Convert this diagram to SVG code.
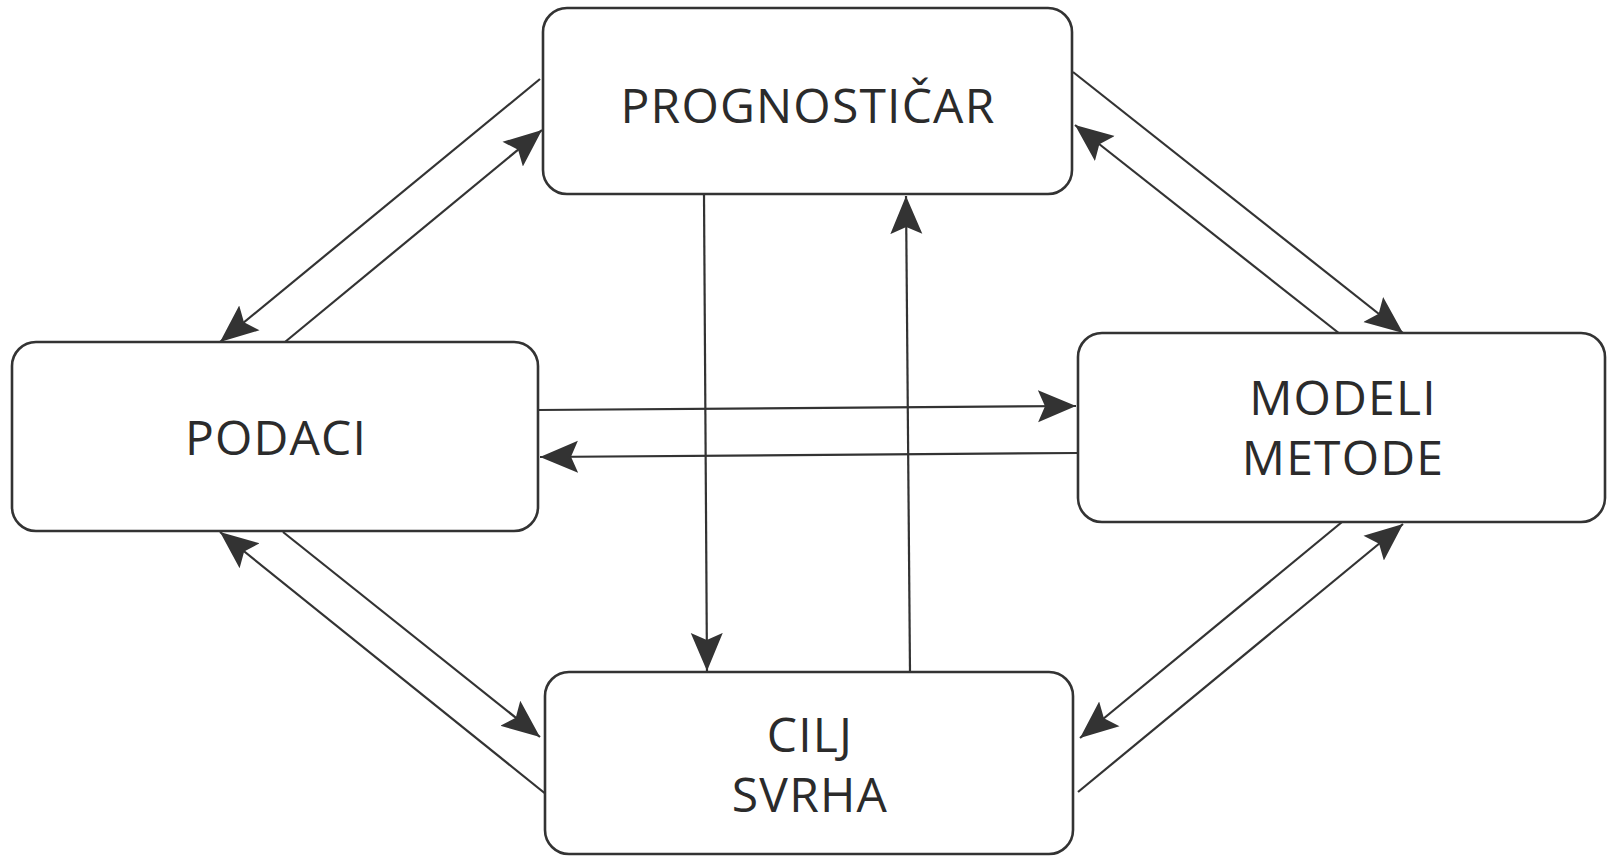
<svg xmlns="http://www.w3.org/2000/svg" width="1608" height="857" viewBox="0 0 1608 857">
  <style>
    .box { fill: #ffffff; stroke: #333333; stroke-width: 2.6; }
    .label { font-family: "Open Sans", "Liberation Sans", sans-serif; font-size: 48px; letter-spacing: 1.2px; fill: #2b2b2b; text-anchor: middle; }
    .conn { stroke: #333333; stroke-width: 2.2; fill: none; marker-end: url(#head); }
  </style>
  <defs>
    <marker id="head" markerUnits="userSpaceOnUse" viewBox="-38 -17 40 34" markerWidth="40" markerHeight="34" refX="0" refY="0" orient="auto">
      <path d="M0,0 L-38,-16 L-31,0 L-38,16 Z" fill="#333333"/>
    </marker>
  </defs>
  <rect width="1608" height="857" fill="#ffffff"/>

  <!-- connectors -->
  <g id="connectors">
    <!-- PROGNOSTIČAR <-> PODACI -->
    <line class="conn" x1="540" y1="79" x2="220" y2="342"/>
    <line class="conn" x1="285" y1="342" x2="542" y2="130"/>
    <!-- PROGNOSTIČAR <-> MODELI METODE -->
    <line class="conn" x1="1073" y1="72" x2="1403" y2="333"/>
    <line class="conn" x1="1340" y1="334" x2="1075" y2="125"/>
    <!-- PODACI <-> CILJ SVRHA -->
    <line class="conn" x1="283" y1="532" x2="540" y2="737"/>
    <line class="conn" x1="547" y1="795" x2="220" y2="532"/>
    <!-- MODELI METODE <-> CILJ SVRHA -->
    <line class="conn" x1="1342" y1="522" x2="1080" y2="738"/>
    <line class="conn" x1="1078" y1="792" x2="1403" y2="524"/>
    <!-- PODACI <-> MODELI METODE -->
    <line class="conn" x1="538" y1="410" x2="1076" y2="406"/>
    <line class="conn" x1="1078" y1="453" x2="540" y2="457"/>
    <!-- PROGNOSTIČAR <-> CILJ SVRHA -->
    <line class="conn" x1="704" y1="195" x2="707" y2="671"/>
    <line class="conn" x1="910" y1="672" x2="906" y2="196"/>
  </g>

  <!-- nodes -->
  <g id="prognosticar">
    <rect class="box" x="543" y="8" width="529" height="186" rx="24" ry="24"/>
    <text class="label" x="808" y="123">PROGNOSTIČAR</text>
  </g>
  <g id="podaci">
    <rect class="box" x="12" y="342" width="526" height="189" rx="24" ry="24"/>
    <text class="label" x="276" y="455">PODACI</text>
  </g>
  <g id="modeli-metode">
    <rect class="box" x="1078" y="333" width="527" height="189" rx="24" ry="24"/>
    <text class="label" x="1343" y="415">MODELI</text>
    <text class="label" x="1343" y="475">METODE</text>
  </g>
  <g id="cilj-svrha">
    <rect class="box" x="545" y="672" width="528" height="182" rx="24" ry="24"/>
    <text class="label" x="810" y="752">CILJ</text>
    <text class="label" x="810" y="812">SVRHA</text>
  </g>
</svg>
